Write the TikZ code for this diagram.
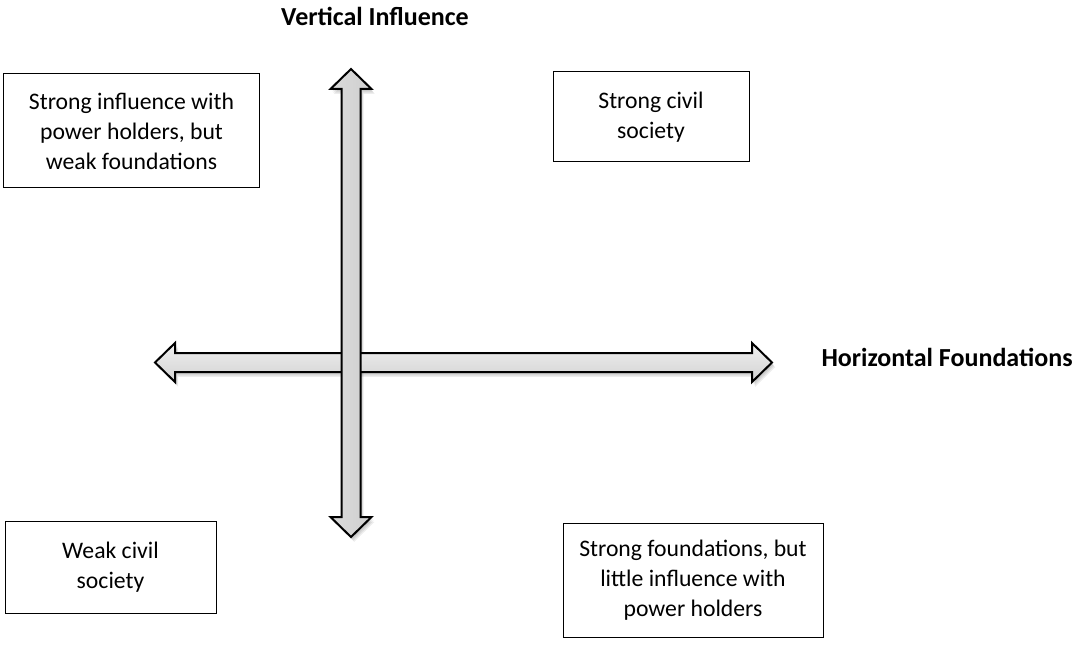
\documentclass[tikz,border=0pt]{standalone}
\usepackage{fontspec}
\setmainfont{Carlito}
\begin{document}
\begin{tikzpicture}[x=1pt,y=-1pt,
  box/.style={draw=black, line width=1pt, align=center, inner sep=0pt,
    font=\fontsize{23.7}{30}\selectfont},
  axislabel/.style={font=\fontsize{26}{30}\selectfont\bfseries},
  arrowline/.style={draw=black, line width=2pt, line join=miter},
  shadowfill/.style={fill=black, fill opacity=0.07, draw=none}]
\useasboundingbox (0,0) rectangle (1078,647);
% shapes
\def\harrow{(155,362.5) -- (175,343) -- (175,353) -- (752,353) -- (752,343) -- (772,362.5) -- (752,382) -- (752,372) -- (175,372) -- (175,382) -- cycle}
\def\varrow{(351,69) -- (371.5,89) -- (360.5,89) -- (360.5,517) -- (371.5,517) -- (351,537) -- (330.5,517) -- (341.5,517) -- (341.5,89) -- (330.5,89) -- cycle}
% shadows
\foreach \d in {1,2,3,4}{
  \path[shadowfill, shift={(\d*0.8,\d*1.2)}] \harrow;
  \path[shadowfill, shift={(\d*0.8,\d*1.2)}] \varrow;
}
% horizontal arrow
\path[arrowline, top color=gray!12, bottom color=gray!35] \harrow;
% vertical arrow
\path[arrowline, left color=gray!28, right color=gray!38] \varrow;
% boxes
\node[box, minimum width=256pt, minimum height=114pt] (tl) at (131.5,131)
  {Strong influence with\\power holders, but\\weak foundations};
\node[box, minimum width=196pt, minimum height=90pt] (tr) at (651,117)
  {Strong civil\\society};
\node[box, minimum width=211pt, minimum height=92pt] (bl) at (110.5,567)
  {Weak civil\\society};
\node[box, minimum width=260pt, minimum height=114pt] (br) at (693,580)
  {Strong foundations, but\\little influence with\\power holders};
% axis labels
\node[axislabel] (vl) at (375,16) {Vertical Influence};
\node[axislabel] (hl) at (947,357) {Horizontal Foundations};
\end{tikzpicture}
\end{document}
